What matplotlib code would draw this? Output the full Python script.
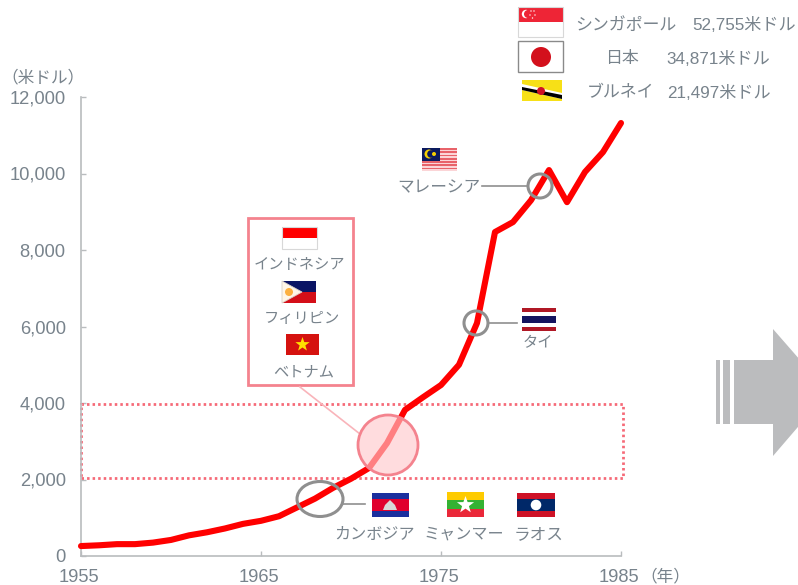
import math
import matplotlib
matplotlib.use('Agg')
import matplotlib.pyplot as plt
from matplotlib.patches import Rectangle, Circle, Ellipse, Polygon
from matplotlib.transforms import ScaledTranslation

plt.rcParams['font.family'] = ['Liberation Sans', 'Noto Sans CJK JP', 'DejaVu Sans']

# per capita gdp (us dollars) by year
years = list(range(1955, 1986))
gdp = [260, 280, 310, 310, 350, 420, 540, 620, 720, 840, 920,
       1040, 1270, 1500, 1780, 2020, 2300, 2950, 3820, 4150, 4470,
       5000, 6090, 8470, 8730, 9300, 10090, 9250, 10040, 10560, 11320]
x_ticks = [1955, 1965, 1975, 1985]
y_ticks = [0, 2000, 4000, 6000, 8000, 10000, 12000]
band = [2040, 3975]
top_countries = ['シンガポール', '日本', 'ブルネイ']
top_values = ['52,755米ドル', '34,871米ドル', '21,497米ドル']

TEXT = '#78838c'
AXIS = '#b9bcbe'
PINK = '#f4838e'
RING = '#8f8f8f'
RED = '#ff0000'

W, H = 798, 585
fig = plt.figure(figsize=(W / 100, H / 100), dpi=100)
ax = fig.add_axes([81 / W, (H - 556) / H, 540 / W, 459 / H])

ax.plot(years, gdp, color=RED, lw=4.4, solid_capstyle='round', solid_joinstyle='round',
        clip_on=False, zorder=3)

# dotted band around the middle income range
ax.add_patch(Rectangle((1955, band[0]), 30.1, band[1] - band[0], fill=False, ec='#f66a78',
                       lw=2, ls=(0, (0.9, 1.1)), clip_on=False, zorder=2))

ax.set_xlim(1955, 1985)
ax.set_ylim(0, 12000)
ax.set_xticks(x_ticks)
ax.set_yticks(y_ticks)
ax.set_yticklabels([f'{v:,}' for v in y_ticks])
ax.tick_params(axis='both', direction='in', length=3.5, width=1, color=AXIS,
               labelcolor=TEXT, labelsize=13.2)
ax.tick_params(axis='y', pad=11)
ax.tick_params(axis='x', pad=9)
for lab in ax.get_xticklabels():
    lab.set_transform(lab.get_transform() + ScaledTranslation(-2.5 / 100, 0, fig.dpi_scale_trans))
for s in ['top', 'right']:
    ax.spines[s].set_visible(False)
for s in ['left', 'bottom']:
    ax.spines[s].set_color(AXIS)
    ax.spines[s].set_linewidth(1.2)

# overlay in pixel coordinates for the callouts and flags
ov = fig.add_axes([0, 0, 1, 1], facecolor='none')
ov.set_xlim(0, W)
ov.set_ylim(H, 0)
ov.axis('off')


def rect(x, y, w, h, c, z=6):
    ov.add_patch(Rectangle((x, y), w, h, fc=c, ec='none', zorder=z))


def stripes(x0, y0, x1, y1, cols, z=6):
    h = (y1 - y0) / len(cols)
    for i, c in enumerate(cols):
        rect(x0, y0 + i * h, x1 - x0, h, c, z)


def border(x0, y0, x1, y1, c='#d8d8d8', lw=0.8):
    ov.add_patch(Rectangle((x0, y0), x1 - x0, y1 - y0, fill=False, ec=c, lw=lw, zorder=8))


def star(cx, cy, r, c):
    pts = []
    for i in range(10):
        a = -math.pi / 2 + i * math.pi / 5
        rr = r if i % 2 == 0 else r * 0.4
        pts.append((cx + rr * math.cos(a), cy + rr * math.sin(a)))
    ov.add_patch(Polygon(pts, fc=c, ec='none', zorder=7))


# flags
stripes(518, 7, 563, 37, ['#ee2536', '#ffffff'])
border(518, 7, 563, 37)
ov.add_patch(Circle((526, 14), 4.2, fc='white', ec='none', zorder=7))
ov.add_patch(Circle((528, 14), 4, fc='#ee2536', ec='none', zorder=7))
for dx, dy in [(531, 11), (534, 11), (530, 15), (535, 15), (532.5, 18)]:
    ov.add_patch(Circle((dx, dy), 0.7, fc='white', ec='none', zorder=7))

rect(518, 41, 45, 31, 'white')
border(518, 41, 563, 72, '#8a8a8a', 1)
ov.add_patch(Circle((541, 57), 10, fc='#d3101c', ec='none', zorder=7))

rect(522, 80, 40, 21, '#f7e017')
ov.add_patch(Polygon([(522, 84), (562, 93), (562, 99), (522, 90)], fc='white', ec='none', zorder=7))
ov.add_patch(Polygon([(522, 87), (562, 95), (562, 99), (522, 90)], fc='black', ec='none', zorder=7))
ov.add_patch(Circle((541, 91), 4, fc='#cf1126', ec='none', zorder=8))

stripes(282, 227, 317, 249, ['#ff0000', '#ffffff'])
border(282, 227, 317, 249)

stripes(282, 281, 316, 303, ['#0a1464', '#d40f18'])
ov.add_patch(Polygon([(282, 281), (302, 292), (282, 303)], fc='#fff6e8', ec='#d8d0c8', lw=0.6, zorder=7))
ov.add_patch(Circle((289, 292), 4, fc='#fcb040', ec='none', zorder=8))

rect(286, 334, 33, 21, '#d5120f')
star(302.5, 344.5, 7.5, '#ffe000')

stripes(372, 493, 409, 517, ['#1b2f9e', '#e0002d', '#e0002d', '#1b2f9e'])
ov.add_patch(Polygon([(383, 510), (385, 505), (390, 500), (395, 505), (397, 510)], fc='#d8d8d8', ec='none', zorder=7))

stripes(447, 492, 484, 517, ['#fecb00', '#34b233', '#ea2839'])
star(465.5, 505, 9, 'white')

stripes(517, 493, 555, 517, ['#ce1126', '#002868', '#002868', '#ce1126'])
ov.add_patch(Circle((536, 505), 5.3, fc='white', ec='none', zorder=7))

stripes(422, 148, 457, 171, ['#e8636a', '#fbd5d7'] * 7)
rect(422, 148, 18, 13, '#0b1a5e', 7)
ov.add_patch(Circle((429, 154), 4.5, fc='#f5d000', ec='none', zorder=8))
ov.add_patch(Circle((431, 154), 3.8, fc='#0b1a5e', ec='none', zorder=8))
ov.add_patch(Circle((434, 154), 2, fc='#f5d000', ec='none', zorder=8))

stripes(522, 308, 556, 331, ['#b01825', '#ffffff', '#14145f', '#14145f', '#ffffff', '#b01825'])

# callout rings
for xy, w, h in [((540, 186), 24, 24), ((476, 323), 24, 24), ((320, 499), 46, 35)]:
    ov.add_patch(Ellipse(xy, w, h, fill=False, ec=RING, lw=2.2, zorder=5))
ov.plot([482, 528], [186, 186], color=RING, lw=1.2, zorder=5)
ov.plot([488, 517], [323, 323], color=RING, lw=1.2, zorder=5)
ov.plot([343, 365], [504, 504], color=RING, lw=1.2, zorder=5)

# highlighted low income group
ov.add_patch(Rectangle((248, 218), 105, 167, fc='white', ec=PINK, lw=2, zorder=4))
ov.plot([300, 360], [387, 434], color='#f9b4ba', lw=1.2, zorder=4)
ov.add_patch(Circle((388, 445), 30, fc=(1, 0.79, 0.80, 0.635), ec=PINK, lw=2, zorder=5))

# arrow at the right edge
ar = dict(fc='#bbbcbe', ec='none', zorder=4)
ov.add_patch(Rectangle((716, 360), 4, 64, **ar))
ov.add_patch(Rectangle((723, 360), 7, 64, **ar))
ov.add_patch(Polygon([(734, 360), (773, 360), (773, 329), (828, 392), (773, 456), (773, 424), (734, 424)], **ar))


def label(x, y, s, size=11, ha='center'):
    ov.text(x, y + 1.5, s, color=TEXT, fontsize=size, ha=ha, va='center', zorder=9)


label(299.5, 264, 'インドネシア')
label(302, 317, 'フィリピン')
label(304, 371, 'ベトナム')
label(439, 186, 'マレーシア', 12)
label(538, 342, 'タイ')
label(375, 533, 'カンボジア', 11.6)
label(464, 533, 'ミャンマー', 11.6)
label(539, 533, 'ラオス', 12)

# top three economies
for cx, vx, y, name, val in zip([626, 622, 621], [692, 666, 667], [24, 57, 91], top_countries, top_values):
    label(cx, y, name, 12.2)
    label(vx, y, val, 12.3, ha='left')

label(43, 76, '（米ドル）', 12)
label(640, 575, '（年）', 12, ha='left')

fig.savefig('out.png', dpi=100)
